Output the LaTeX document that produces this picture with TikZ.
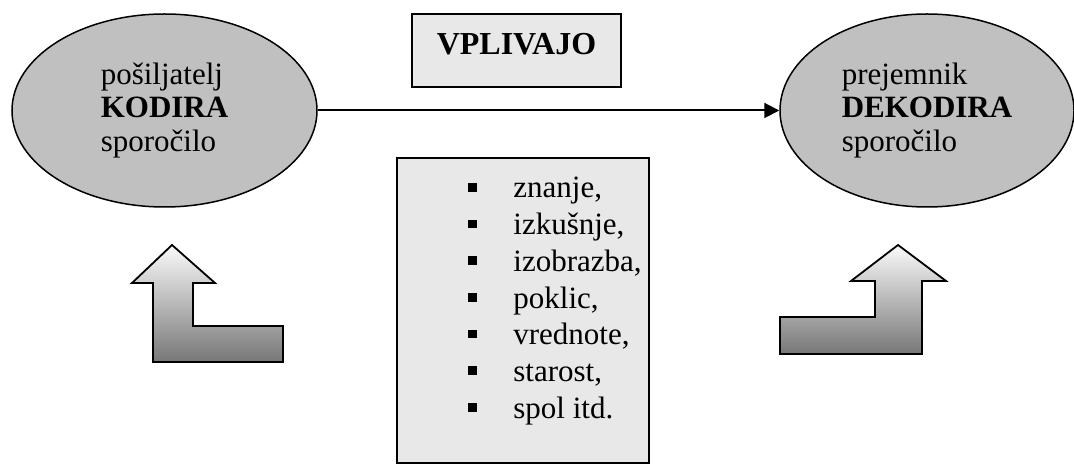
\documentclass[tikz,border=0pt]{standalone}
\usepackage{fontspec}
\setmainfont{Liberation Serif}
\usetikzlibrary{arrows.meta,shapes.geometric}

\definecolor{elipsa}{HTML}{C0C0C0}
\definecolor{okvir}{HTML}{E8E8E8}
\definecolor{senca}{HTML}{777777}

\begin{document}
\begin{tikzpicture}[x=0.5pt,y=-0.5pt,
  oseba/.style={ellipse,draw,line width=0.75pt,fill=elipsa,inner sep=0pt,
    minimum height=96.5pt,align=left,font=\fontsize{15.5}{16.75}\selectfont},
  skatla/.style={rectangle,draw,line width=1pt,fill=okvir,inner sep=0pt},
  tocka/.style={anchor=base west,inner sep=0pt,font=\fontsize{15.5}{18}\selectfont},
  blok/.style={draw,line width=0.9pt,top color=white!98!black,bottom color=senca},
  povezava/.style={line width=1pt,-{Triangle[length=7.5pt,width=7.5pt]}}]
  \path[use as bounding box] (0,0) rectangle (1074,464);
  \clip (0,0) rectangle (1074,464);

  % posiljatelj in prejemnik
  \node[oseba,minimum width=152.5pt] (posiljatelj) at (164.5,110.5)
    {pošiljatelj\\\textbf{KODIRA}\\sporočilo};
  \node[oseba,minimum width=147pt] (prejemnik) at (927,110.5)
    {prejemnik\\\textbf{DEKODIRA}\\sporočilo};
  \draw[povezava] (posiljatelj) -- (prejemnik);

  % kaj vpliva
  \node[skatla,minimum width=104.5pt,minimum height=36.5pt,text depth=6.5pt,
    font=\fontsize{16}{18}\selectfont\bfseries] (vplivajo) at (516.5,50.5) {VPLIVAJO};
  \node[skatla,anchor=north west,minimum width=126pt,minimum height=152.5pt]
    (dejavniki) at (396,157) {};
  \foreach \beseda [count=\i] in {{znanje,},{izkušnje,},{izobrazba,},{poklic,},
      {vrednote,},{starost,},{spol itd.}} {
    \fill (468,{198+36.7*(\i-1)-15.05}) rectangle +(8.7,8.7);
    \node[tocka] (d\i) at (513,{198+36.7*(\i-1)}) {\beseda};
  }

  % puscici navzgor
  \draw[blok] (172,245) -- (215,283) -- (193,283) -- (193,326) -- (283,326)
    -- (283,362) -- (153,362) -- (153,283) -- (132,283) -- cycle;
  \draw[blok] (898,245) -- (946,281) -- (922,281) -- (922,354) -- (780,354)
    -- (780,317) -- (875,317) -- (875,281) -- (851,281) -- cycle;
\end{tikzpicture}
\end{document}
